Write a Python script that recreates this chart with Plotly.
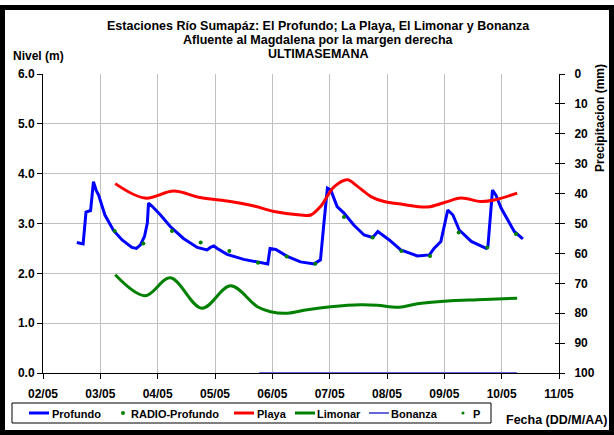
import pandas as pd
import plotly.graph_objects as go

# ---- data (day-of-month in May, fractional) ----
profundo_day = [2.59, 2.70, 2.75, 2.83, 2.88, 2.93, 2.97, 3.08, 3.23, 3.38, 3.55, 3.63, 3.70, 3.77,
                3.82, 3.84, 3.90, 4.05, 4.22, 4.45, 4.69, 4.86, 4.92, 4.98, 5.04, 5.21, 5.50, 5.74,
                5.92, 5.96, 6.06, 6.26, 6.49, 6.73, 6.84, 6.90, 6.96, 7.02, 7.13, 7.25, 7.42, 7.60,
                7.75, 7.84, 8.04, 8.24, 8.53, 8.74, 8.82, 8.94, 9.06, 9.15, 9.26, 9.47, 9.73, 9.76,
                9.84, 9.90, 9.99, 10.22, 10.37]
profundo_lvl = [2.62, 2.59, 3.23, 3.26, 3.84, 3.66, 3.57, 3.17, 2.86, 2.67, 2.52, 2.50, 2.57, 2.74,
                3.01, 3.41, 3.35, 3.17, 2.94, 2.70, 2.52, 2.47, 2.52, 2.55, 2.50, 2.38, 2.28, 2.23,
                2.19, 2.50, 2.48, 2.34, 2.23, 2.19, 2.27, 3.01, 3.71, 3.67, 3.34, 3.21, 2.97, 2.77,
                2.72, 2.84, 2.67, 2.47, 2.35, 2.37, 2.50, 2.64, 3.27, 3.17, 2.87, 2.64, 2.50, 2.54,
                3.67, 3.57, 3.31, 2.84, 2.69]

radio_day = [3.25, 3.75, 4.25, 4.75, 5.25, 5.75, 6.25, 6.75, 7.25, 7.75, 8.25, 8.75, 9.25, 9.75, 10.25]
radio_lvl = [2.85, 2.60, 2.85, 2.62, 2.45, 2.21, 2.34, 2.19, 3.13, 2.72, 2.45, 2.35, 2.82, 2.52, 2.79]

playa_day = [3.26, 3.78, 4.28, 4.74, 5.21, 5.68, 6.03, 6.49, 6.67, 6.84, 7.08, 7.31, 7.48, 7.72,
             7.95, 8.24, 8.71, 9.00, 9.29, 9.64, 9.87, 10.27]
playa_lvl = [3.80, 3.51, 3.65, 3.52, 3.45, 3.35, 3.24, 3.17, 3.17, 3.34, 3.74, 3.88, 3.75, 3.54,
             3.44, 3.39, 3.33, 3.42, 3.51, 3.44, 3.47, 3.61]

limonar_day = [3.26, 3.78, 4.22, 4.77, 5.27, 5.74, 5.97, 6.26, 6.61, 7.02, 7.54, 7.83, 8.21, 8.53,
               9.12, 9.58, 10.27]
limonar_lvl = [1.97, 1.55, 1.91, 1.30, 1.75, 1.33, 1.23, 1.20, 1.27, 1.33, 1.37, 1.36, 1.32, 1.39,
               1.45, 1.47, 1.50]

bonanza_day = [5.77, 6.25, 6.75, 7.25, 7.75, 8.25, 8.75, 9.25, 9.75, 10.27]
bonanza_lvl = [0, 0, 0, 0, 0, 0, 0, 0, 0, 0]

tick_days = [2, 3, 4, 5, 6, 7, 8, 9, 10, 11]
nivel_ticks = [0, 1, 2, 3, 4, 5, 6]
precip_ticks = [0, 10, 20, 30, 40, 50, 60, 70, 80, 90, 100]

BASE = pd.Timestamp("2016-05-01")


def to_dt(days):
    return [BASE + pd.to_timedelta(d - 1, unit="D") for d in days]


FONT = "Liberation Sans, Arial, sans-serif"

series_style = {
    "Profundo": dict(kind="line", color="#0000FF", width=3),
    "RADIO-Profundo": dict(kind="dot", color="#008000", size=4),
    "Playa": dict(kind="line", color="#FF0000", width=3),
    "Limonar": dict(kind="line", color="#008000", width=3),
    "Bonanza": dict(kind="line", color="#3333CC", width=1.5),
    "P": dict(kind="dot", color="#008000", size=3),
}

fig = go.Figure()
fig.add_trace(go.Scatter(x=to_dt(profundo_day), y=profundo_lvl, name="Profundo", mode="lines",
                         line=dict(color="#0000FF", width=3)))
fig.add_trace(go.Scatter(x=to_dt(radio_day), y=radio_lvl, name="RADIO-Profundo", mode="markers",
                         marker=dict(color="#008000", size=4)))
fig.add_trace(go.Scatter(x=to_dt(playa_day), y=playa_lvl, name="Playa", mode="lines",
                         line=dict(color="#FF0000", width=3, shape="spline")))
fig.add_trace(go.Scatter(x=to_dt(limonar_day), y=limonar_lvl, name="Limonar", mode="lines",
                         line=dict(color="#008000", width=3, shape="spline")))
fig.add_trace(go.Scatter(x=to_dt(bonanza_day), y=bonanza_lvl, name="Bonanza", mode="lines",
                         line=dict(color="#3333CC", width=1.5)))
fig.add_trace(go.Scatter(x=[None], y=[None], name="P", mode="markers", yaxis="y2",
                         marker=dict(color="#008000", size=3)))
# invisible helper so the crossing (inside) tick marks of the precipitation axis are drawn
fig.add_trace(go.Scatter(x=[None], y=[None], name="_ticks", mode="markers", yaxis="y3",
                         hoverinfo="skip"))

tickfont = dict(family=FONT, size=12, color="black", weight="bold")

fig.update_layout(
    width=614, height=435,
    margin=dict(l=43, r=55, t=74, b=62, autoexpand=False),
    paper_bgcolor="white", plot_bgcolor="white",
    showlegend=False,
    xaxis=dict(type="date", range=[to_dt([2])[0], to_dt([11])[0]],
               tickvals=to_dt(tick_days), tickformat="%d/%m",
               showgrid=True, gridcolor="#C0C0C0", gridwidth=1,
               showline=True, linecolor="black", linewidth=1,
               ticks="outside", ticklen=5, tickcolor="black", ticklabelstandoff=5,
               tickfont=tickfont, zeroline=False, automargin=False),
    yaxis=dict(range=[0, 6], tickvals=nivel_ticks, tickformat=".1f",
               showgrid=True, gridcolor="#C0C0C0", gridwidth=1,
               showline=True, linecolor="black", linewidth=1,
               ticks="outside", ticklen=5, tickcolor="black",
               tickfont=tickfont, zeroline=False, automargin=False),
    yaxis2=dict(overlaying="y", side="right", range=[100, 0], tickvals=precip_ticks,
                showgrid=False, showline=True, linecolor="black", linewidth=1,
                ticks="outside", ticklen=5, tickcolor="black", ticklabelstandoff=7,
                tickfont=tickfont, zeroline=False, automargin=False),
    yaxis3=dict(overlaying="y", side="right", range=[100, 0], tickvals=precip_ticks,
                showgrid=False, showline=False, showticklabels=False,
                ticks="inside", ticklen=4, tickcolor="black",
                zeroline=False, automargin=False),
)

W = 516.0
H = 299.0


def px(xp):
    return (xp - 43) / W


def py(yp):
    return (373 - yp) / H


bold12 = dict(family=FONT, size=12, color="black", weight="bold")
title_font = dict(family=FONT, size=12.5, color="black", weight="bold")

titles = [
    ("Estaciones Río Sumapáz: El Profundo; La Playa, El Limonar y Bonanza", 26),
    ("Afluente al Magdalena por la margen derecha", 40),
    ("ULTIMASEMANA", 54),
]
for txt, yy in titles:
    fig.add_annotation(text=txt, xref="paper", yref="paper", x=px(318), y=py(yy),
                       xanchor="center", yanchor="middle", showarrow=False, font=title_font)

fig.add_annotation(text="Nivel (m)", xref="paper", yref="paper", x=px(11), y=py(56),
                   xanchor="left", yanchor="middle", showarrow=False, font=bold12)
fig.add_annotation(text="Precipitacion (mm)", xref="paper", yref="paper", x=px(600), y=py(118),
                   xanchor="center", yanchor="middle", textangle=-90, showarrow=False, font=bold12)
fig.add_annotation(text="Fecha (DD/M/AA)", xref="paper", yref="paper", x=px(504), y=py(420),
                   xanchor="left", yanchor="middle", showarrow=False,
                   font=dict(family=FONT, size=12.5, color="black", weight="bold"))
fig.add_annotation(text=".", xref="paper", yref="paper", x=px(1), y=py(-3),
                   xanchor="left", yanchor="top", showarrow=False, font=bold12)

# ---- legend box (drawn by hand to match the reference layout) ----
LEG_Y = 413
fig.add_shape(type="rect", xref="paper", yref="paper",
              x0=px(12), x1=px(491), y0=py(423), y1=py(403),
              line=dict(color="black", width=1), fillcolor="white", layer="above")
legend_pos = {  # symbol start x, text start x (pixels)
    "Profundo": (29, 50),
    "RADIO-Profundo": (123, 129),
    "Playa": (234, 255),
    "Limonar": (295, 315),
    "Bonanza": (369, 389),
    "P": (463, 471),
}
for name, (sx, tx) in legend_pos.items():
    st = series_style[name]
    if st["kind"] == "line":
        fig.add_shape(type="line", xref="paper", yref="paper",
                      x0=px(sx), x1=px(sx + 20), y0=py(LEG_Y), y1=py(LEG_Y),
                      line=dict(color=st["color"], width=st["width"]), layer="above")
    else:
        r = st["size"] / 2.0
        fig.add_shape(type="circle", xref="paper", yref="paper",
                      x0=px(sx - r), x1=px(sx + r), y0=py(LEG_Y + r), y1=py(LEG_Y - r),
                      line=dict(color=st["color"], width=0), fillcolor=st["color"], layer="above")
    fig.add_annotation(text=name, xref="paper", yref="paper", x=px(tx), y=py(LEG_Y + 0.5),
                       xanchor="left", yanchor="middle", showarrow=False,
                       font=dict(family=FONT, size=11, color="black", weight="bold"))

# outer frame
fig.add_shape(type="rect", xref="paper", yref="paper",
              x0=px(2.5), x1=px(611.5), y0=py(432.5), y1=py(7.5),
              line=dict(color="black", width=5), fillcolor="rgba(0,0,0,0)", layer="above")

fig.write_html("out.html", config={"displayModeBar": False},
               post_script="document.body.style.margin='0';")
